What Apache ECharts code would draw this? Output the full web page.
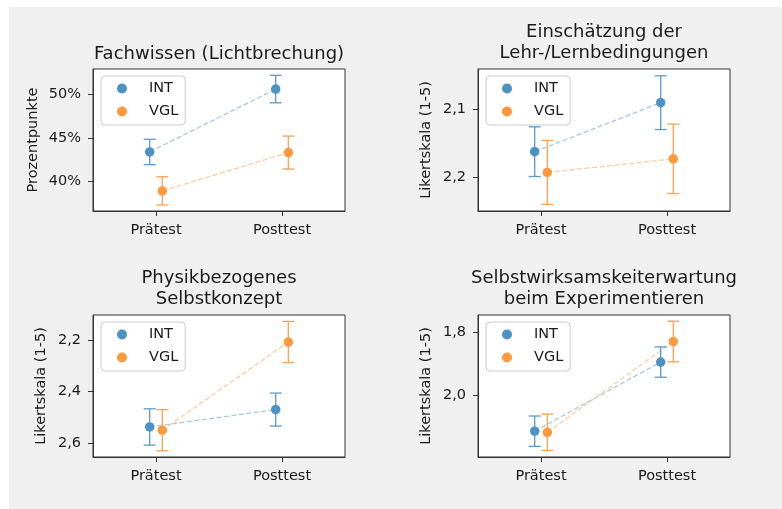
<!DOCTYPE html>
<html>
<head>
<meta charset="utf-8">
<script src="https://cdn.jsdelivr.net/npm/echarts@6/dist/echarts.min.js"></script>
<style>
html,body{margin:0;padding:0;background:#fff;}
#chart{width:782px;height:509px;}
</style>
</head>
<body>
<div id="chart"></div>
<script>
// ---- data ----
const categories = ['Prätest', 'Posttest'];
const groups = ['INT', 'VGL'];

const titles = [
  'Fachwissen (Lichtbrechung)',
  'Einschätzung der\nLehr-/Lernbedingungen',
  'Physikbezogenes\nSelbstkonzept',
  'Selbstwirksamskeiterwartung\nbeim Experimentieren'
];
const yNames = ['Prozentpunkte', 'Likertskala (1-5)', 'Likertskala (1-5)', 'Likertskala (1-5)'];

// Panel 1: Fachwissen (percent)
const p1_int = [43.4, 50.6];
const p1_int_err = [1.45, 1.57];
const p1_vgl = [38.94, 43.33];
const p1_vgl_err = [1.62, 1.89];
const p1_ticks = [40, 45, 50];
const p1_tickLabels = ['40%', '45%', '50%'];

// Panel 2: Einschätzung der Lehr-/Lernbedingungen
const p2_int = [2.1625, 2.0905];
const p2_int_err = [0.0365, 0.0395];
const p2_vgl = [2.193, 2.173];
const p2_vgl_err = [0.047, 0.051];
const p2_ticks = [2.1, 2.2];
const p2_tickLabels = ['2,1', '2,2'];

// Panel 3: Physikbezogenes Selbstkonzept
const p3_int = [2.5375, 2.47];
const p3_int_err = [0.0705, 0.064];
const p3_vgl = [2.55, 2.208];
const p3_vgl_err = [0.08, 0.08];
const p3_ticks = [2.2, 2.4, 2.6];
const p3_tickLabels = ['2,2', '2,4', '2,6'];

// Panel 4: Selbstwirksamkeitserwartung
const p4_int = [2.1165, 1.8955];
const p4_int_err = [0.0485, 0.0485];
const p4_vgl = [2.12, 1.83];
const p4_vgl_err = [0.058, 0.065];
const p4_ticks = [1.8, 2.0];
const p4_tickLabels = ['1,8', '2,0'];

// ---- layout / style ----
const panels = [
  {int: p1_int, intErr: p1_int_err, vgl: p1_vgl, vglErr: p1_vgl_err, ticks: p1_ticks, labels: p1_tickLabels,
   min: 36.64, max: 52.9, inverse: false, grid: {left: 93, top: 69}, nameGap: 52, titleY: 54.7},
  {int: p2_int, intErr: p2_int_err, vgl: p2_vgl, vglErr: p2_vgl_err, ticks: p2_ticks, labels: p2_tickLabels,
   min: 2.041, max: 2.2497, inverse: true, grid: {left: 478, top: 69}, nameGap: 44, titleY: 43.2},
  {int: p3_int, intErr: p3_int_err, vgl: p3_vgl, vglErr: p3_vgl_err, ticks: p3_ticks, labels: p3_tickLabels,
   min: 2.103, max: 2.654, inverse: true, grid: {left: 93, top: 315}, nameGap: 44, titleY: 288.5},
  {int: p4_int, intErr: p4_int_err, vgl: p4_vgl, vglErr: p4_vgl_err, ticks: p4_ticks, labels: p4_tickLabels,
   min: 1.745, max: 2.199, inverse: true, grid: {left: 478, top: 315}, nameGap: 44, titleY: 288.5}
];
const GW = 252, GH = 142;
const offsets = {INT: -0.05, VGL: 0.05};
const markerColor = {INT: '#4c92c3', VGL: '#ff993e'};
const lineColor = {INT: '#a5c9e1', VGL: '#ffcc9f'};
const errColor = {INT: '#5a9ac8', VGL: '#ffa04c'};
const FONT = 'DejaVu Sans';
const textColor = '#1a1a1a';

const grids = [], xAxes = [], yAxes = [], series = [], legends = [];
const graphics = [{
  type: 'rect', z: -100, silent: true,
  shape: {x: 9, y: 7, width: 773, height: 502},
  style: {fill: '#f0f0f0'}
}];

function errRender(color) {
  return function (params, api) {
    const x = api.value(0), lo = api.value(1), hi = api.value(2);
    const a = api.coord([x, lo]);
    const b = api.coord([x, hi]);
    const cap = 6;
    const st = {stroke: color, lineWidth: 1.3};
    return {
      type: 'group',
      children: [
        {type: 'line', shape: {x1: a[0], y1: a[1], x2: b[0], y2: b[1]}, style: st},
        {type: 'line', shape: {x1: a[0] - cap, y1: a[1], x2: a[0] + cap, y2: a[1]}, style: st},
        {type: 'line', shape: {x1: b[0] - cap, y1: b[1], x2: b[0] + cap, y2: b[1]}, style: st}
      ]
    };
  };
}

panels.forEach((p, i) => {
  grids.push({
    left: p.grid.left, top: p.grid.top, width: GW, height: GH,
    show: true, backgroundColor: '#fff', borderColor: '#333', borderWidth: 1
  });
  xAxes.push({
    type: 'value', gridIndex: i, min: -0.5, max: 1.5,
    splitLine: {show: false},
    axisLine: {show: true, onZero: false, lineStyle: {color: '#333', width: 1}},
    axisTick: {show: true, length: 5, customValues: [0, 1], lineStyle: {color: '#333'}},
    axisLabel: {
      customValues: [0, 1], margin: 12,
      formatter: v => categories[Math.round(v)],
      fontFamily: FONT, fontSize: 14.5, color: textColor
    }
  });
  yAxes.push({
    type: 'value', gridIndex: i, min: p.min, max: p.max, inverse: p.inverse,
    name: yNames[i], nameLocation: 'middle', nameGap: p.nameGap,
    nameTextStyle: {fontFamily: FONT, fontSize: 14.5, color: textColor},
    splitLine: {show: false},
    axisLine: {show: true, onZero: false, lineStyle: {color: '#333', width: 1}},
    axisTick: {show: true, length: 5, customValues: p.ticks, lineStyle: {color: '#333'}},
    axisLabel: {
      customValues: p.ticks, margin: 12,
      formatter: v => {
        const k = p.ticks.findIndex(t => Math.abs(t - v) < 1e-9);
        return k >= 0 ? p.labels[k] : '';
      },
      fontFamily: FONT, fontSize: 14.5, color: textColor
    }
  });

  const vals = {INT: [p.int, p.intErr], VGL: [p.vgl, p.vglErr]};
  // dashed connecting lines
  groups.forEach(g => {
    const [m] = vals[g];
    series.push({
      type: 'line', name: g + ' Verlauf', xAxisIndex: i, yAxisIndex: i,
      data: categories.map((c, k) => [k + offsets[g], m[k]]),
      showSymbol: false, symbol: 'none', silent: true, z: 1,
      lineStyle: {color: lineColor[g], width: 1.3, type: [5, 2.5]}
    });
  });
  groups.forEach((g, gi) => {
    const [m, e] = vals[g];
    series.push({
      type: 'custom', name: g + ' Fehler', xAxisIndex: i, yAxisIndex: i,
      data: categories.map((c, k) => [k + offsets[g], m[k] - e[k], m[k] + e[k]]),
      renderItem: errRender(errColor[g]), silent: true, z: 2 + gi * 2
    });
    series.push({
      type: 'scatter', name: g, xAxisIndex: i, yAxisIndex: i,
      data: categories.map((c, k) => [k + offsets[g], m[k]]),
      symbol: 'circle', symbolSize: 9.5, z: 3 + gi * 2,
      itemStyle: {color: markerColor[g], opacity: 1}
    });
  });

  legends.push({
    left: p.grid.left + 8, top: p.grid.top + 7,
    orient: 'vertical', icon: 'circle',
    itemWidth: 10, itemHeight: 10, itemGap: 8,
    padding: [5, 7, 6, 16],
    backgroundColor: '#fff', borderColor: '#ccc', borderWidth: 1, borderRadius: 4,
    data: groups,
    selectedMode: false,
    formatter: name => '{t|' + name + '}',
    textStyle: {
      fontFamily: FONT, fontSize: 14.5, color: textColor,
      rich: {t: {fontFamily: FONT, fontSize: 14.5, color: textColor, padding: [0, 0, 0, 17]}}
    }
  });

  graphics.push({
    type: 'text',
    x: p.grid.left + GW / 2, y: p.titleY,
    style: {
      text: titles[i], align: 'center', verticalAlign: 'middle',
      font: '18px "DejaVu Sans"', lineHeight: 21, fill: textColor
    }
  });
});

const chart = echarts.init(document.getElementById('chart'), null, {renderer: 'canvas'});
chart.setOption({
  animation: false,
  grid: grids, xAxis: xAxes, yAxis: yAxes, series: series,
  legend: legends, graphic: graphics
});
</script>
</body>
</html>
